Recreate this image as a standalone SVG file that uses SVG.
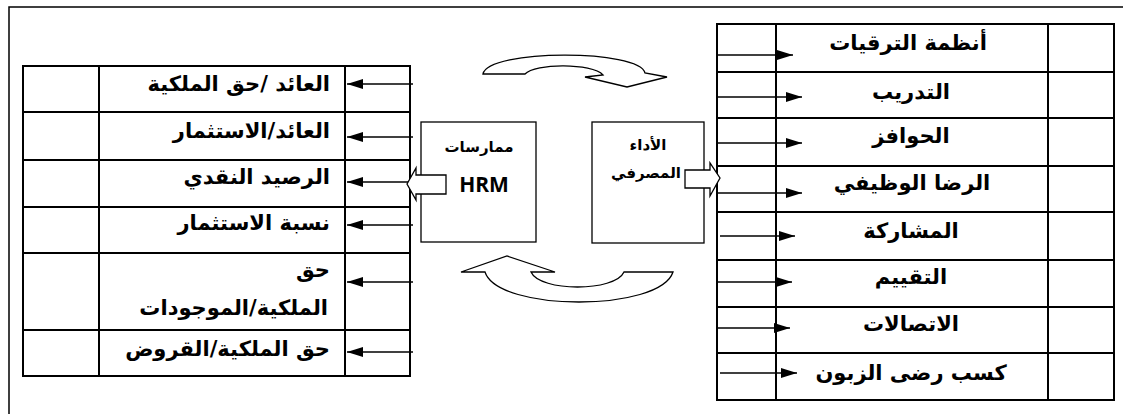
<svg xmlns="http://www.w3.org/2000/svg" width="1123" height="414" viewBox="0 0 1123 414">
<style>
.frame{fill:none;stroke:#000;stroke-width:1.5}
.tbl{fill:#fff;stroke:#000;stroke-width:2}
.grid{stroke:#000;stroke-width:2}
.box{fill:#fff;stroke:#000;stroke-width:1.3}
.conn{stroke:#000;stroke-width:1.3;fill:none}
.blk{fill:#fff;stroke:#000;stroke-width:1.3;stroke-linejoin:miter}
.ar{font-family:"DejaVu Sans",sans-serif;font-weight:bold;font-size:21px;fill:#000}
.arR{direction:rtl;text-anchor:start}
.arC{direction:rtl;text-anchor:middle}
.sm{font-family:"DejaVu Sans",sans-serif;font-weight:bold;font-size:15px;fill:#000;direction:rtl;text-anchor:middle}
.hrm{font-family:"Open Sans","Noto Sans",sans-serif;font-weight:bold;font-size:21px;fill:#000;text-anchor:middle}
</style>
<defs>
<marker id="ah" markerWidth="16" markerHeight="10" refX="16" refY="5" orient="auto" markerUnits="userSpaceOnUse">
<path d="M0,0 L16,5 L0,10 Z" fill="#000"/>
</marker>
</defs>
<rect width="1123" height="414" fill="#fff"/>
<g id="frame">
<path class="frame" d="M9,414 L9,7 L1123,7"/>
</g>

<g id="left-table">
<rect class="tbl" x="23" y="66" width="387" height="310"/>
<line class="grid" x1="99" y1="66" x2="99" y2="376"/>
<line class="grid" x1="345" y1="66" x2="345" y2="376"/>
<line class="grid" x1="23" y1="112" x2="410" y2="112"/>
<line class="grid" x1="23" y1="160" x2="410" y2="160"/>
<line class="grid" x1="23" y1="207" x2="410" y2="207"/>
<line class="grid" x1="23" y1="253" x2="410" y2="253"/>
<line class="grid" x1="23" y1="330" x2="410" y2="330"/>
<text class="ar arR" x="330" y="91">العائد /حق الملكية</text>
<text class="ar arR" x="330" y="138">العائد/الاستثمار</text>
<text class="ar arR" x="330" y="184">الرصيد النقدي</text>
<text class="ar arR" x="330" y="230">نسبة الاستثمار</text>
<text class="ar arR" x="330" y="277">حق</text>
<text class="ar arR" x="328" y="315">الملكية/الموجودات</text>
<text class="ar arR" x="330" y="356">حق الملكية/القروض</text>
</g>

<g id="right-table">
<rect class="tbl" x="717" y="24" width="397" height="376"/>
<line class="grid" x1="776" y1="24" x2="776" y2="400"/>
<line class="grid" x1="1048" y1="24" x2="1048" y2="400"/>
<line class="grid" x1="717" y1="72" x2="1114" y2="72"/>
<line class="grid" x1="717" y1="118" x2="1114" y2="118"/>
<line class="grid" x1="717" y1="166" x2="1114" y2="166"/>
<line class="grid" x1="717" y1="212" x2="1114" y2="212"/>
<line class="grid" x1="717" y1="260" x2="1114" y2="260"/>
<line class="grid" x1="717" y1="307" x2="1114" y2="307"/>
<line class="grid" x1="717" y1="353" x2="1114" y2="353"/>
<text class="ar arC" x="908" y="50">أنظمة الترقيات</text>
<text class="ar arC" x="911" y="99">التدريب</text>
<text class="ar arC" x="911" y="143">الحوافز</text>
<text class="ar arC" x="912" y="190">الرضا الوظيفي</text>
<text class="ar arC" x="911" y="238">المشاركة</text>
<text class="ar arC" x="911" y="284">التقييم</text>
<text class="ar arC" x="911" y="331">الاتصالات</text>
<text class="ar arC" x="911" y="380">كسب رضى الزبون</text>
</g>

<g id="hrm-node">
<rect class="box" x="421" y="122" width="115" height="120"/>
<text class="sm" x="479" y="152">ممارسات</text>
<text class="hrm" x="484" y="192">HRM</text>
</g>

<g id="performance-node">
<rect class="box" x="592" y="122" width="112" height="121"/>
<text class="sm" x="648" y="150">الأداء</text>
<text class="sm" x="646" y="178">المصرفي</text>
</g>

<g id="connectors">
<line class="conn" x1="413" y1="84" x2="347" y2="84" marker-end="url(#ah)"/>
<line class="conn" x1="413" y1="137" x2="347" y2="137" marker-end="url(#ah)"/>
<line class="conn" x1="413" y1="182" x2="347" y2="182" marker-end="url(#ah)"/>
<line class="conn" x1="413" y1="225" x2="347" y2="225" marker-end="url(#ah)"/>
<line class="conn" x1="413" y1="282" x2="347" y2="282" marker-end="url(#ah)"/>
<line class="conn" x1="413" y1="352" x2="347" y2="352" marker-end="url(#ah)"/>

<line class="conn" x1="717" y1="55" x2="793" y2="55" marker-end="url(#ah)"/>
<line class="conn" x1="717" y1="97" x2="802" y2="97" marker-end="url(#ah)"/>
<line class="conn" x1="717" y1="143" x2="802" y2="143" marker-end="url(#ah)"/>
<line class="conn" x1="717" y1="193" x2="802" y2="193" marker-end="url(#ah)"/>
<line class="conn" x1="720" y1="236" x2="795" y2="236" marker-end="url(#ah)"/>
<line class="conn" x1="717" y1="282" x2="792" y2="282" marker-end="url(#ah)"/>
<line class="conn" x1="717" y1="328" x2="790" y2="328" marker-end="url(#ah)"/>
<line class="conn" x1="720" y1="373" x2="797" y2="373" marker-end="url(#ah)"/>

<path class="blk" d="M407,184 L416,168 L416,175 L446,175 L446,194 L416,194 L416,200 Z"/>
<path class="blk" d="M685,170 L710,170 L710,163 L720,178 L710,196 L710,188 L685,188 Z"/>

<path class="blk" d="M483,74 C488,49 640,49 645,73 L667,77 L627,87 L585,77 L603,75 C592,63 535,63 525,74 Z"/>
<path class="blk" d="M461,272 L507,256 L555,272 L531,272 C540,292 615,292 624,272 L673,272 C660,312 498,312 485,272 Z"/>
</g>
</svg>
